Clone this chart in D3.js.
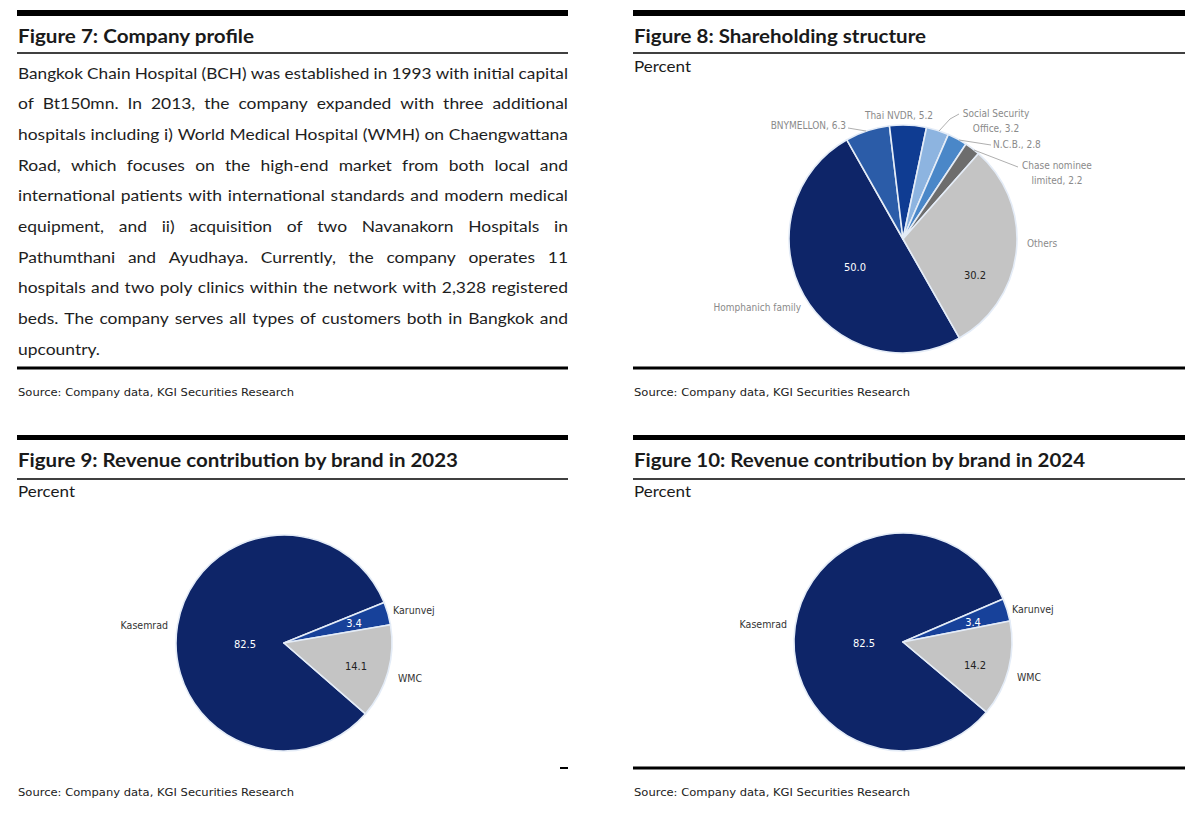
<!DOCTYPE html>
<html><head><meta charset="utf-8">
<script src="https://cdn.jsdelivr.net/npm/d3@7"></script>
<style>body{margin:0;background:#fff}svg{display:block}</style>
</head><body><svg id="c" width="1200" height="813"></svg>
<script>
// ---------------- data ----------------
const figureTitles = ["Figure 7: Company profile", "Figure 8: Shareholding structure",
  "Figure 9: Revenue contribution by brand in 2023", "Figure 10: Revenue contribution by brand in 2024"];
const unitLabel = "Percent";
const sourceText = "Source: Company data, KGI Securities Research";
const profileLines = [
  "Bangkok Chain Hospital (BCH) was established in 1993 with initial capital",
  "of Bt150mn. In 2013, the company expanded with three additional",
  "hospitals including i) World Medical Hospital (WMH) on Chaengwattana",
  "Road, which focuses on the high-end market from both local and",
  "international patients with international standards and modern medical",
  "equipment, and ii) acquisition of two Navanakorn Hospitals in",
  "Pathumthani and Ayudhaya. Currently, the company operates 11",
  "hospitals and two poly clinics within the network with 2,328 registered",
  "beds. The company serves all types of customers both in Bangkok and",
  "upcountry."
];
const shareholders = ["Homphanich family", "BNYMELLON", "Thai NVDR", "Social Security Office", "N.C.B.", "Chase nominee limited", "Others"];
const shareholdingPct = [50.0, 6.3, 5.2, 3.2, 2.8, 2.2, 30.2];
const brands = ["Kasemrad", "Karunvej", "WMC"];
const revenue2023 = [82.5, 3.4, 14.1];
const revenue2024 = [82.5, 3.4, 14.2];

// ---------------- styles / layout ----------------
const shareColors = ["#0e2568", "#2b5ca8", "#0f3c92", "#8db4e0", "#4a87c8", "#6d6d6d", "#c4c4c4"];
const brandColors = ["#0e2568", "#17419a", "#c4c4c4"];
const fmt = d3.format(".1f");
const svg = d3.select("#c");
const panels = [
  {x0: 17, x1: 568, top: 10, bar: 6, titleY: 43, titleW: 236, rule: 53, unitY: 72, bottom: 368, srcY: 396},
  {x0: 633, x1: 1185, top: 10, bar: 6, titleY: 43, titleW: 292, rule: 53, unitY: 72, bottom: 368, srcY: 396},
  {x0: 17, x1: 568, top: 435, bar: 5, titleY: 467, titleW: 440, rule: 479, unitY: 497, bottom: null, srcY: 796},
  {x0: 633, x1: 1185, top: 435, bar: 5, titleY: 467, titleW: 451, rule: 479, unitY: 497, bottom: 768, srcY: 796}
];

panels.forEach((p, i) => {
  const g = svg.append("g");
  g.append("rect").attr("x", p.x0).attr("y", p.top).attr("width", p.x1 - p.x0).attr("height", p.bar).attr("fill", "#000");
  g.append("text").attr("x", p.x0 + 1).attr("y", p.titleY).text(figureTitles[i])
    .attr("font-family", "Lato, 'Open Sans', sans-serif").attr("font-weight", 700).attr("font-size", 18)
    .attr("fill", "#1a1a1a").attr("textLength", p.titleW).attr("lengthAdjust", "spacingAndGlyphs");
  g.append("line").attr("x1", p.x0).attr("x2", p.x1).attr("y1", p.rule).attr("y2", p.rule).attr("stroke", "#000").attr("stroke-width", 1.3);
  if (i > 0) {
    g.append("text").attr("x", p.x0 + 1).attr("y", p.unitY).text(unitLabel)
      .attr("font-family", "Lato, sans-serif").attr("font-size", 15.5).attr("fill", "#1a1a1a")
      .attr("textLength", 57).attr("lengthAdjust", "spacingAndGlyphs");
  }
  if (p.bottom !== null) {
    g.append("rect").attr("x", p.x0).attr("y", p.bottom - 1.5).attr("width", p.x1 - p.x0).attr("height", 3).attr("fill", "#000");
  } else {
    g.append("rect").attr("x", p.x1 - 8).attr("y", 767).attr("width", 8).attr("height", 2).attr("fill", "#000");
  }
  g.append("text").attr("x", p.x0 + 1).attr("y", p.srcY).text(sourceText)
    .attr("font-family", "'DejaVu Sans', Verdana, sans-serif").attr("font-size", 10.5).attr("fill", "#222")
    .attr("textLength", 276).attr("lengthAdjust", "spacingAndGlyphs");
});

// ---------------- Figure 7: justified paragraph (one text element per word) ----------------
(function () {
  const p = panels[0];
  const width = p.x1 - p.x0 - 1;
  const g = svg.append("g").attr("font-family", "Lato, 'Open Sans', sans-serif").attr("font-size", 16).attr("fill", "#1e1e1e");
  profileLines.forEach((line, li) => {
    const y = 78.5 + li * 30.7;
    const words = line.split(" ");
    const last = li === profileLines.length - 1;
    const nodes = words.map(w => g.append("text").attr("y", y).text(w));
    const widths = nodes.map(n => n.node().getComputedTextLength());
    const total = d3.sum(widths);
    const minGap = 4.2;
    const scale = last ? 1.09 : Math.min(1.09, (width - minGap * (words.length - 1)) / total);
    const gap = last ? minGap : (width - total * scale) / (words.length - 1);
    let x = p.x0 + 1;
    nodes.forEach((n, k) => {
      n.attr("x", x).attr("textLength", widths[k] * scale).attr("lengthAdjust", "spacingAndGlyphs");
      x += widths[k] * scale + gap;
    });
  });
})();

// ---------------- pie helper ----------------
function drawPie(values, colors, startDeg, cx, cy, r) {
  const pie = d3.pie().sort(null).value(d => d)
    .startAngle(startDeg * Math.PI / 180).endAngle(startDeg * Math.PI / 180 + 2 * Math.PI);
  const arc = d3.arc().innerRadius(0).outerRadius(r);
  const g = svg.append("g").attr("transform", `translate(${cx},${cy})`);
  g.selectAll("path").data(pie(values)).join("path")
    .attr("d", arc).attr("fill", (d, i) => colors[i])
    .attr("stroke", "#e4ecf7").attr("stroke-width", 1.6).attr("stroke-linejoin", "round");
  return {g};
}

// ---------------- Figure 8 ----------------
(function () {
  const cx = 903, cy = 239, r = 114;
  const {g} = drawPie(shareholdingPct, shareColors, 150.3, cx, cy, r);
  const inner = {0: [-48, 32, "#ffffff"], 6: [72, 40, "#222"]};
  Object.entries(inner).forEach(([i, o]) => {
    g.append("text").attr("x", o[0]).attr("y", o[1]).attr("text-anchor", "middle")
      .attr("font-family", "'DejaVu Sans Condensed', 'DejaVu Sans', sans-serif").attr("font-size", 11)
      .attr("fill", o[2]).text(fmt(shareholdingPct[i]));
  });
  const outer = [
    {anchor: "end", x: 801, y: 311, lines: [shareholders[0]]},
    {anchor: "end", x: 846, y: 129, lines: [shareholders[1] + ", " + fmt(shareholdingPct[1])], lead: [[848, 128], [866, 131]]},
    {anchor: "middle", x: 899, y: 119, lines: [shareholders[2] + ", " + fmt(shareholdingPct[2])]},
    {anchor: "middle", x: 996, y: 117, lines: ["Social Security", "Office, " + fmt(shareholdingPct[3])], lead: [[939, 131], [950, 119], [959, 114]]},
    {anchor: "start", x: 993, y: 148, lines: [shareholders[4] + ", " + fmt(shareholdingPct[4])], lead: [[959, 140], [991, 145]]},
    {anchor: "middle", x: 1057, y: 169, lines: ["Chase nominee", "limited, " + fmt(shareholdingPct[5])], lead: [[974, 150], [1018, 167]]},
    {anchor: "start", x: 1027, y: 247, lines: [shareholders[6]]}
  ];
  const lg = svg.append("g").attr("font-family", "'DejaVu Sans Condensed', 'DejaVu Sans', sans-serif").attr("font-size", 10).attr("fill", "#8a8a8a");
  outer.forEach(o => {
    const t = lg.append("text").attr("x", o.x).attr("y", o.y).attr("text-anchor", o.anchor);
    o.lines.forEach((ln, k) => t.append("tspan").attr("x", o.x).attr("dy", k === 0 ? 0 : 15).text(ln));
    if (o.lead) lg.append("polyline").attr("points", o.lead.map(q => q.join(",")).join(" "))
      .attr("fill", "none").attr("stroke", "#9a9a9a").attr("stroke-width", 0.8);
  });
})();

// ---------------- Figures 9 & 10 ----------------
function brandPie(values, cx, cy, r, startDeg) {
  const {g} = drawPie(values, brandColors, startDeg, cx, cy, r);
  const font = "'DejaVu Sans Condensed', 'DejaVu Sans', sans-serif";
  const valPos = [[-39, 5, "#ffffff"], [70, -16, "#ffffff"], [72, 27, "#222"]];
  values.forEach((v, i) => {
    g.append("text").attr("x", valPos[i][0]).attr("y", valPos[i][1]).attr("text-anchor", "middle")
      .attr("font-family", font).attr("font-size", 11).attr("fill", valPos[i][2]).text(fmt(v));
  });
  const namePos = [[-116, -14, "end"], [109, -29, "start"], [114, 39, "start"]];
  brands.forEach((b, i) => {
    g.append("text").attr("x", namePos[i][0]).attr("y", namePos[i][1]).attr("text-anchor", namePos[i][2])
      .attr("font-family", font).attr("font-size", 10.5).attr("fill", "#333").text(b);
  });
}
brandPie(revenue2023, 284, 643, 108, 131);
brandPie(revenue2024, 903, 642, 109, 130);
</script></body></html>
